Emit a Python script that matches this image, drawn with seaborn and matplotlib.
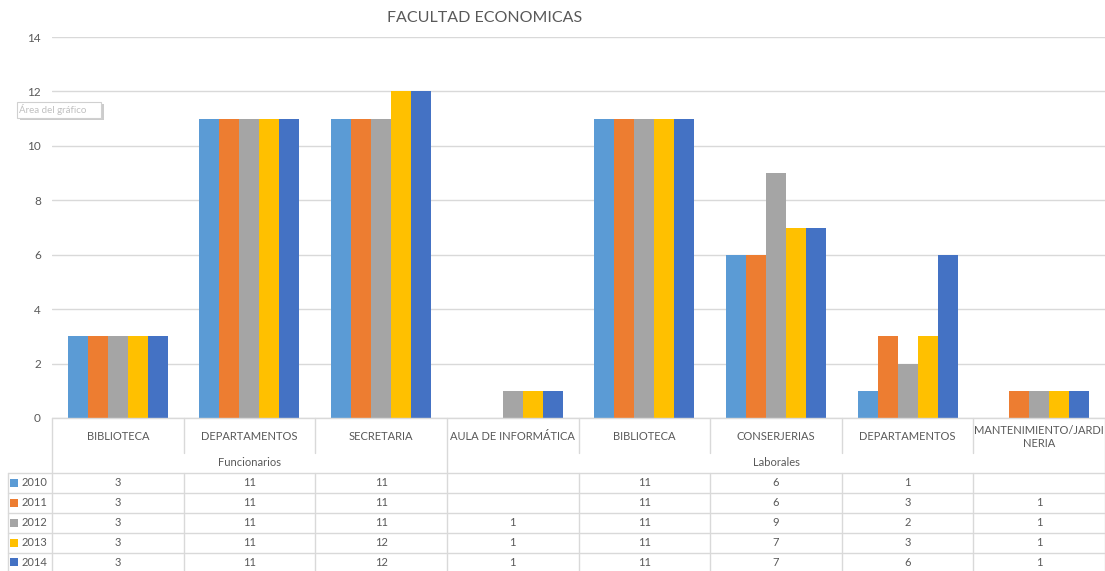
import pandas as pd
import numpy as np
import seaborn as sns
import matplotlib.pyplot as plt
from matplotlib.transforms import blended_transform_factory
from matplotlib.patches import FancyBboxPatch

categories = ["BIBLIOTECA", "DEPARTAMENTOS", "SECRETARIA", "AULA DE INFORMÁTICA",
              "BIBLIOTECA", "CONSERJERIAS", "DEPARTAMENTOS", "MANTENIMIENTO/JARDI\nNERIA"]
groups = ["Funcionarios", "Laborales"]
group_sizes = [3, 5]
years = ["2010", "2011", "2012", "2013", "2014"]
v2010 = [3, 11, 11, np.nan, 11, 6, 1, np.nan]
v2011 = [3, 11, 11, np.nan, 11, 6, 3, 1]
v2012 = [3, 11, 11, 1, 11, 9, 2, 1]
v2013 = [3, 11, 12, 1, 11, 7, 3, 1]
v2014 = [3, 11, 12, 1, 11, 7, 6, 1]
colors = ["#5B9BD5", "#ED7D31", "#A5A5A5", "#FFC000", "#4472C4"]

series = [v2010, v2011, v2012, v2013, v2014]
rows = []
for y, vals in zip(years, series):
    for i, v in enumerate(vals):
        rows.append({"cat": i, "year": y, "value": v})
df = pd.DataFrame(rows)

sns.set_style("white")
plt.rcParams['font.family'] = ['Lato', 'DejaVu Sans']
txt = "#595959"
grid = "#D9D9D9"

W, H = 1105, 571
fig = plt.figure(figsize=(W / 100, H / 100), dpi=100)
ax = fig.add_axes([52 / W, 1 - 418 / H, (1105 - 52) / W, (418 - 37) / H])

sns.barplot(data=df, x="cat", y="value", hue="year", hue_order=years,
            palette=colors, saturation=1, width=0.76, ax=ax, legend=False,
            errorbar=None, linewidth=0, order=list(range(len(categories))))

ax.set_xlim(-0.5, len(categories) - 0.5)
ax.set_ylim(0, 14)
ax.set_yticks(range(0, 15, 2))
ax.yaxis.grid(True, color=grid, linewidth=1)
ax.set_axisbelow(True)
for s in ax.spines.values():
    s.set_visible(False)
ax.tick_params(axis="y", length=0, labelsize=8.5, labelcolor=txt, pad=8)
ax.set_xticks([])
ax.set_xlabel("")
ax.set_ylabel("")

fig.text(485 / W, 1 - 18 / H, "FACULTAD ECONOMICAS", ha="center", va="center",
         fontsize=11.5, color=txt)

# data table below the axes
tr = blended_transform_factory(ax.transData, fig.transFigure)
def fy(px):
    return 1 - px / H

n = len(categories)
key_left = -0.5 - 44 / ((1105 - 52) / n)

# baseline
ax.plot([-0.5, n - 0.5], [fy(418), fy(418)], transform=tr, color=grid, lw=1, clip_on=False)

# vertical lines
bounds = [-0.5]
acc = 0
for g in group_sizes:
    acc += g
    bounds.append(acc - 0.5)
for i in range(n + 1):
    xb = i - 0.5
    if xb in bounds:
        ax.plot([xb, xb], [fy(418), fy(571)], transform=tr, color=grid, lw=1, clip_on=False)
    else:
        ax.plot([xb, xb], [fy(418), fy(453)], transform=tr, color=grid, lw=1, clip_on=False)
        ax.plot([xb, xb], [fy(473), fy(571)], transform=tr, color=grid, lw=1, clip_on=False)

# horizontal row lines
row_lines = [473, 493, 513, 533, 553]
for yl in row_lines:
    ax.plot([key_left, n - 0.5], [fy(yl), fy(yl)], transform=tr, color=grid, lw=1, clip_on=False)
ax.plot([key_left, key_left], [fy(473), fy(571)], transform=tr, color=grid, lw=1, clip_on=False)

# category labels
for i, c in enumerate(categories):
    ax.text(i, fy(437), c, transform=tr, ha="center", va="center", fontsize=8,
            color=txt, linespacing=1.3)

# group labels
start = 0
for g, sz in zip(groups, group_sizes):
    mid = start + (sz - 1) / 2
    ax.text(mid, fy(463), g, transform=tr, ha="center", va="center", fontsize=8, color=txt)
    start += sz

# values rows
row_centers = [483, 503, 523, 543, 562]
for y, vals, col, rc in zip(years, series, colors, row_centers):
    ax.scatter([key_left + 0.045], [fy(rc)], transform=tr, marker="s", s=30,
               color=col, clip_on=False, linewidths=0)
    ax.text(key_left + 0.1, fy(rc), y, transform=tr, ha="left", va="center",
            fontsize=8, color=txt)
    for i, v in enumerate(vals):
        if not np.isnan(v):
            ax.text(i, fy(rc), f"{int(v)}", transform=tr, ha="center", va="center",
                    fontsize=8, color=txt)

# excel tooltip
fig.patches.append(FancyBboxPatch((20 / W, 1 - 120 / H), 84 / W, 16 / H,
                                  boxstyle="square,pad=0", transform=fig.transFigure,
                                  facecolor="#9A9A9A", edgecolor="none", alpha=0.5))
fig.patches.append(FancyBboxPatch((17 / W, 1 - 118 / H), 84 / W, 16 / H,
                                  boxstyle="square,pad=0", transform=fig.transFigure,
                                  facecolor="white", edgecolor="#D0D0D0", lw=0.8))
fig.text(19 / W, 1 - 110 / H, "Área del gráfico", ha="left", va="center",
         fontsize=7, color="#C0C0C0")

fig.savefig("out.png", dpi=100)
